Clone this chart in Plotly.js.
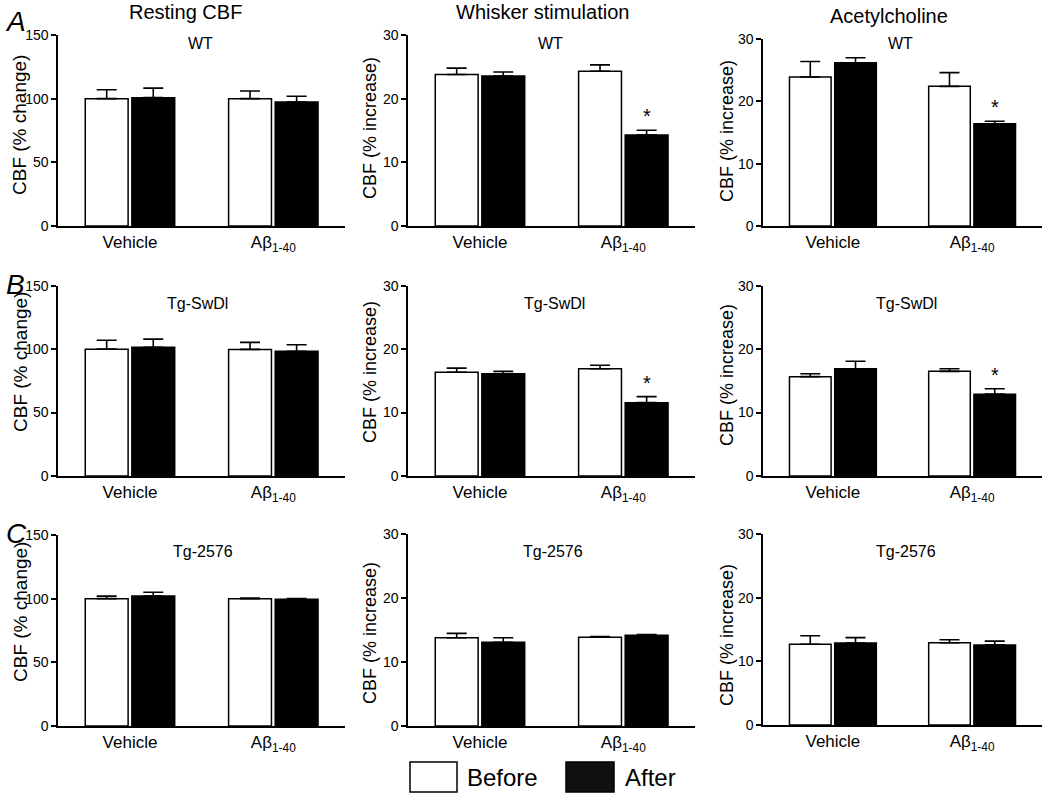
<!DOCTYPE html>
<html>
<head>
<meta charset="utf-8">
<script src="https://cdn.plot.ly/plotly-3.0.1.min.js"></script>
<style>html,body{margin:0;padding:0;background:#fff;}#chart{width:1050px;height:794px;}</style>
</head>
<body>
<div id="chart"></div>
<script>
// ---------- DATA ----------
const categories = ['Vehicle', 'A\u03b2<sub>1-40</sub>'];
const measures = ['Resting CBF', 'Whisker stimulation', 'Acetylcholine'];
const genotypes = ['WT', 'Tg-SwDl', 'Tg-2576'];
const panelLetters = ['A', 'B', 'C'];
const yTitles = ['CBF (% change)', 'CBF (% increase)', 'CBF (% increase)'];
const yMax = [150, 30, 30];
const yTicks = [[0, 50, 100, 150], [0, 10, 20, 30], [0, 10, 20, 30]];
const seriesNames = ['Before', 'After'];

// rows: WT, Tg-SwDl, Tg-2576 ; each row: [Vehicle, Abeta1-40]
const restBefore    = [[100, 100], [100, 99.8], [100, 100]];
const restBeforeErr = [[7, 6], [7, 5.5], [2, 0.5]];
const restAfter     = [[100.8, 97.4], [101.4, 98.3], [102.1, 99.5]];
const restAfterErr  = [[7.5, 4.5], [6.5, 5.2], [2.9, 0.5]];

const whiskBefore    = [[23.8, 24.3], [16.35, 16.9], [13.8, 13.9]];
const whiskBeforeErr = [[1.0, 1.0], [0.65, 0.55], [0.7, 0.1]];
const whiskAfter     = [[23.55, 14.3], [16.1, 11.56], [13.1, 14.2]];
const whiskAfterErr  = [[0.65, 0.75], [0.4, 0.95], [0.7, 0.1]];

const achBefore    = [[23.9, 22.4], [15.66, 16.5], [12.7, 12.95]];
const achBeforeErr = [[2.5, 2.2], [0.45, 0.4], [1.35, 0.45]];
const achAfter     = [[26.2, 16.4], [16.9, 12.9], [12.9, 12.6]];
const achAfterErr  = [[0.8, 0.4], [1.2, 0.85], [0.85, 0.6]];

// significance (*) on the "After" bar: [Vehicle, Abeta]
const restSig  = [[false, false], [false, false], [false, false]];
const whiskSig = [[false, true], [false, true], [false, false]];
const achSig   = [[false, true], [false, true], [false, false]];

const before = [restBefore, whiskBefore, achBefore];
const beforeErr = [restBeforeErr, whiskBeforeErr, achBeforeErr];
const after = [restAfter, whiskAfter, achAfter];
const afterErr = [restAfterErr, whiskAfterErr, achAfterErr];
const sig = [restSig, whiskSig, achSig];

// ---------- LAYOUT GEOMETRY (px) ----------
const W = 1050, H = 794;
const FONT = 'Arial, "Liberation Sans", sans-serif';
const colX = [[58.3, 345], [408.3, 695], [763.3, 1041.7]];
const rowTop = [[35, 35, 39], [285.7, 285.7, 285.7], [535, 534.3, 534.3]];
const rowBot = [[226, 226, 226], [476, 476, 476], [726, 726, 725]];
const yTitleX = [20, 370, 727];
const yTitleSize = [19, 18, 18];
const yTitleY = [[125, 128, 131], [362, 372, 375], [612, 633, 635]];
const subTitleX = [[200, 550, 900], [197, 554, 906], [203, 553, 906]];
const subTitleY = [43, 303, 551];
const colTitleX = [185, 542, 889];
const colTitleY = [12, 12, 16];
const letterX = [15, 15, 16];
const letterY = [22, 284, 533];

const px2x = v => v / W;
const px2y = v => 1 - v / H;

const traces = [];
const layout = {
  width: W, height: H,
  margin: {l: 0, r: 0, t: 0, b: 0},
  paper_bgcolor: '#fff', plot_bgcolor: '#fff',
  showlegend: false,
  barmode: 'group', bargap: 0.35, bargroupgap: 0.08,
  font: {family: FONT, color: '#000'},
  annotations: [], shapes: []
};

for (let r = 0; r < 3; r++) {
  for (let c = 0; c < 3; c++) {
    const p = r * 3 + c;
    const sfx = p === 0 ? '' : String(p + 1);
    const xa = 'x' + sfx, ya = 'y' + sfx;
    const xs = [0, 1];
    traces.push({
      type: 'bar', x: xs, y: before[c][r], xaxis: xa, yaxis: ya, name: seriesNames[0],
      marker: {color: '#ffffff', line: {color: '#000', width: 1.5}},
      error_y: {type: 'data', symmetric: false, array: beforeErr[c][r], arrayminus: [0, 0],
                color: '#000', thickness: 1.6, width: 10},
      hoverinfo: 'skip'
    });
    traces.push({
      type: 'bar', x: xs, y: after[c][r], xaxis: xa, yaxis: ya, name: seriesNames[1],
      marker: {color: '#000000', line: {color: '#000', width: 1.5}},
      error_y: {type: 'data', symmetric: false, array: afterErr[c][r], arrayminus: [0, 0],
                color: '#000', thickness: 1.6, width: 10},
      hoverinfo: 'skip'
    });
    layout['xaxis' + sfx] = {
      domain: [px2x(colX[c][0]), px2x(colX[c][1])], anchor: ya,
      range: [-0.5, 1.5], tickvals: [0, 1], ticktext: categories,
      showline: true, linecolor: '#000', linewidth: 2, ticks: '',
      showgrid: false, zeroline: false, fixedrange: true,
      tickfont: {family: FONT, size: 17, color: '#000'}
    };
    layout['yaxis' + sfx] = {
      domain: [px2y(rowBot[r][c]), px2y(rowTop[r][c])], anchor: xa,
      range: [0, yMax[c]], tickvals: yTicks[c],
      showline: true, linecolor: '#000', linewidth: 2, ticks: 'outside', ticklen: 5, tickwidth: 2,
      tickcolor: '#000', showgrid: false, zeroline: false, fixedrange: true,
      tickfont: {family: FONT, size: 14, color: '#000'}
    };
    // y title
    layout.annotations.push({
      xref: 'paper', yref: 'paper', x: px2x(yTitleX[c]), y: px2y(yTitleY[r][c]),
      text: yTitles[c], textangle: -90, showarrow: false, xanchor: 'center', yanchor: 'middle',
      font: {family: FONT, size: yTitleSize[c], color: '#000'}
    });
    // genotype subtitle
    layout.annotations.push({
      xref: 'paper', yref: 'paper', x: px2x(subTitleX[r][c]), y: px2y(subTitleY[r]),
      text: genotypes[r], showarrow: false, xanchor: 'center', yanchor: 'middle',
      font: {family: FONT, size: 16, color: '#000'}
    });
    // significance stars
    for (let k = 0; k < 2; k++) {
      if (sig[c][r][k]) {
        layout.annotations.push({
          xref: xa, yref: ya, x: k + 0.1625, y: after[c][r][k] + afterErr[c][r][k],
          text: '*', showarrow: false, xanchor: 'center', yanchor: 'bottom', yshift: 1,
          font: {family: FONT, size: 20, color: '#000'}
        });
      }
    }
  }
  // panel letter
  layout.annotations.push({
    xref: 'paper', yref: 'paper', x: px2x(letterX[r]), y: px2y(letterY[r]),
    text: '<i>' + panelLetters[r] + '</i>', showarrow: false, xanchor: 'center', yanchor: 'middle',
    font: {family: FONT, size: 28, color: '#000'}
  });
}
// column titles
for (let c = 0; c < 3; c++) {
  layout.annotations.push({
    xref: 'paper', yref: 'paper', x: px2x(colTitleX[c]), y: px2y(colTitleY[c]),
    text: measures[c], showarrow: false, xanchor: 'center', yanchor: 'middle',
    font: {family: FONT, size: 20, color: '#000'}
  });
}
// legend (swatches + labels)
const legBoxes = [[410, 457], [566, 614]];
const legFill = ['#ffffff', '#111111'];
const legTextX = [465, 623];
for (let i = 0; i < 2; i++) {
  layout.shapes.push({
    type: 'rect', xref: 'paper', yref: 'paper',
    x0: px2x(legBoxes[i][0]), x1: px2x(legBoxes[i][1]), y0: px2y(792), y1: px2y(762),
    fillcolor: legFill[i], line: {color: '#000', width: 1.5}
  });
  layout.annotations.push({
    xref: 'paper', yref: 'paper', x: px2x(legTextX[i]), y: px2y(777),
    text: seriesNames[i], showarrow: false, xanchor: 'left', yanchor: 'middle',
    font: {family: FONT, size: 24, color: '#000'}
  });
}

Plotly.newPlot('chart', traces, layout, {staticPlot: true, displayModeBar: false});
</script>
</body>
</html>
